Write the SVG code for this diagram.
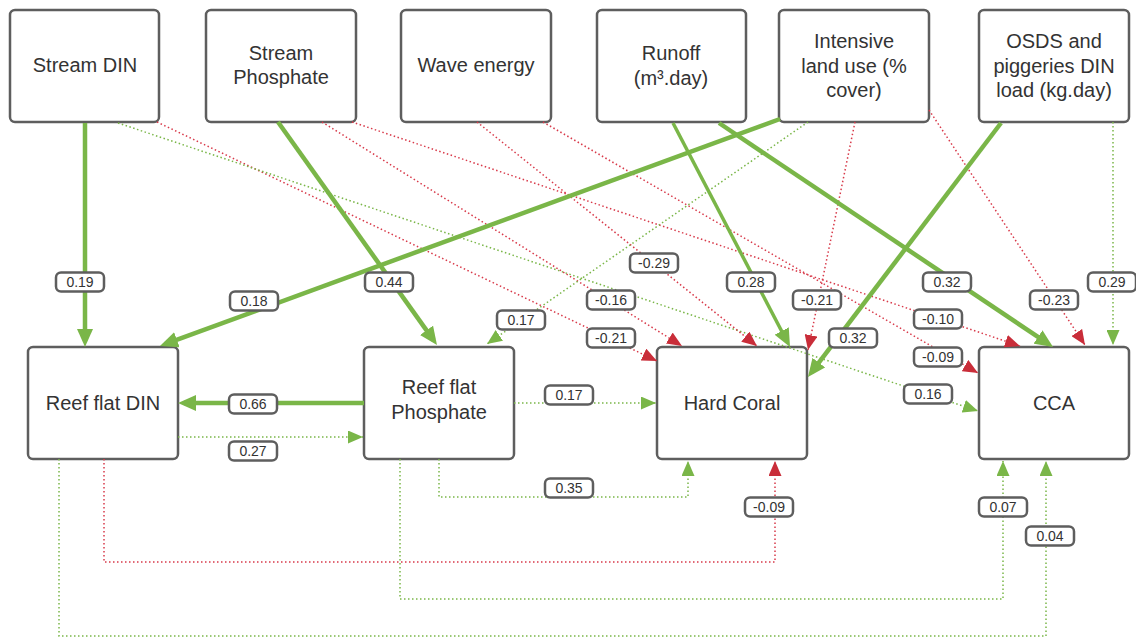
<svg xmlns="http://www.w3.org/2000/svg" width="1136" height="637" viewBox="0 0 1136 637">
<style>
.node rect{fill:#fff;stroke:#5e5e5e;stroke-width:2.5}
.node text{font-family:"Liberation Sans",Arial,sans-serif;font-size:20px;fill:#333;text-anchor:middle}
.thick{fill:none;stroke:#7ab648;stroke-width:4.5}
.gdot{fill:none;stroke:#7ab648;stroke-width:1.5;stroke-dasharray:1.5 2.5}
.rdot{fill:none;stroke:#d83a4a;stroke-width:1.5;stroke-dasharray:1.5 2.5}
.lbl rect{fill:#fff;stroke:#5e5e5e;stroke-width:2.5}
.lbl text{font-family:"Liberation Sans",Arial,sans-serif;font-size:14px;fill:#333;text-anchor:middle}
</style>
<defs>
<marker id="gT" markerUnits="userSpaceOnUse" markerWidth="18" markerHeight="16" refX="12" refY="8" orient="auto"><path d="M0,0 L18,8 L0,16 z" fill="#7ab648"/></marker>
<marker id="g" markerUnits="userSpaceOnUse" markerWidth="15" markerHeight="13" refX="15" refY="6.5" orient="auto"><path d="M0,0 L15,6.5 L0,13 z" fill="#7ab648"/></marker>
<marker id="r" markerUnits="userSpaceOnUse" markerWidth="15" markerHeight="13" refX="15" refY="6.5" orient="auto"><path d="M0,0 L15,6.5 L0,13 z" fill="#c92d39"/></marker>
</defs>

<g id="stream-din" class="node"><rect x="10" y="10" width="149" height="112" rx="5"/><text x="85" y="72">Stream DIN</text></g>
<g id="stream-phosphate" class="node"><rect x="206" y="10" width="150" height="112" rx="5"/><text x="281" y="60">Stream</text><text x="281" y="84">Phosphate</text></g>
<g id="wave-energy" class="node"><rect x="401" y="10" width="150" height="112" rx="5"/><text x="476" y="72">Wave energy</text></g>
<g id="runoff" class="node"><rect x="597" y="10" width="149" height="112" rx="5"/><text x="671" y="60">Runoff</text><text x="671" y="85">(m³.day)</text></g>
<g id="intensive" class="node"><rect x="779" y="10" width="150" height="112" rx="5"/><text x="854" y="48">Intensive</text><text x="854" y="73">land use (%</text><text x="854" y="97">cover)</text></g>
<g id="osds" class="node"><rect x="979" y="10" width="150" height="112" rx="5"/><text x="1054" y="48">OSDS and</text><text x="1054" y="73">piggeries DIN</text><text x="1054" y="97">load (kg.day)</text></g>
<g id="reef-flat-din" class="node"><rect x="28" y="347" width="150" height="112" rx="5"/><text x="103" y="410">Reef flat DIN</text></g>
<g id="reef-flat-phosphate" class="node"><rect x="364" y="347" width="150" height="112" rx="5"/><text x="439" y="394">Reef flat</text><text x="439" y="419">Phosphate</text></g>
<g id="hard-coral" class="node"><rect x="657" y="347" width="150" height="112" rx="5"/><text x="732" y="410">Hard Coral</text></g>
<g id="cca" class="node"><rect x="979" y="347" width="150" height="112" rx="5"/><text x="1054" y="410">CCA</text></g>

<g id="connectors">
<path class="rdot" d="M157,122 L657,361" marker-end="url(#r)"/>
<path class="gdot" d="M118,123 L978,411" marker-end="url(#g)"/>
<path class="rdot" d="M322,122 L682,346" marker-end="url(#r)"/>
<path class="rdot" d="M352,122 L1020,346" marker-end="url(#r)"/>
<path class="rdot" d="M477,122 L757,346" marker-end="url(#r)"/>
<path class="rdot" d="M543,122 L978,373" marker-end="url(#r)"/>
<path class="gdot" d="M808,122 L487,344" marker-end="url(#g)"/>
<path class="rdot" d="M855,122 L808,350" marker-end="url(#r)"/>
<path class="rdot" d="M929,110 L1085,345" marker-end="url(#r)"/>
<path class="gdot" d="M1113,122 V345" marker-end="url(#g)"/>
<path class="thick" d="M85,123 V341" marker-end="url(#gT)"/>
<path class="thick" d="M278,122 L433.5,340.1" marker-end="url(#gT)"/>
<path class="thick" d="M780,119 L165.6,343.9" marker-end="url(#gT)"/>
<path class="thick" style="stroke-width:3.5" d="M673,123 L787.2,341.7" marker-end="url(#gT)"/>
<path class="thick" d="M719,123 L1048,343.7" marker-end="url(#gT)"/>
<path class="thick" d="M1001,123 L811.6,372.2" marker-end="url(#gT)"/>
<path class="thick" d="M364,403 H184" marker-end="url(#gT)"/>
<path class="gdot" d="M178,437 H363" marker-end="url(#g)"/>
<path class="gdot" d="M514,403 H656" marker-end="url(#g)"/>
<path class="gdot" d="M439,459 V497 H688 V461" marker-end="url(#g)"/>
<path class="rdot" d="M104,459 V562 H775 V461" marker-end="url(#r)"/>
<path class="gdot" d="M400,459 V599 H1003 V461" marker-end="url(#g)"/>
<path class="gdot" d="M59,459 V636 H1046 V461" marker-end="url(#g)"/>
</g>

<g id="labels" class="lbl">
<g transform="translate(80,282)"><rect x="-24" y="-9.5" width="48" height="19" rx="5"/><text y="5">0.19</text></g>
<g transform="translate(389,282)"><rect x="-24" y="-9.5" width="48" height="19" rx="5"/><text y="5">0.44</text></g>
<g transform="translate(254,301)"><rect x="-24" y="-9.5" width="48" height="19" rx="5"/><text y="5">0.18</text></g>
<g transform="translate(521,320)"><rect x="-24" y="-9.5" width="48" height="19" rx="5"/><text y="5">0.17</text></g>
<g transform="translate(654,263)"><rect x="-24" y="-9.5" width="48" height="19" rx="5"/><text y="5">-0.29</text></g>
<g transform="translate(751,282)"><rect x="-24" y="-9.5" width="48" height="19" rx="5"/><text y="5">0.28</text></g>
<g transform="translate(611,300)"><rect x="-24" y="-9.5" width="48" height="19" rx="5"/><text y="5">-0.16</text></g>
<g transform="translate(817,300)"><rect x="-24" y="-9.5" width="48" height="19" rx="5"/><text y="5">-0.21</text></g>
<g transform="translate(611,338)"><rect x="-24" y="-9.5" width="48" height="19" rx="5"/><text y="5">-0.21</text></g>
<g transform="translate(947,282)"><rect x="-24" y="-9.5" width="48" height="19" rx="5"/><text y="5">0.32</text></g>
<g transform="translate(853,338)"><rect x="-24" y="-9.5" width="48" height="19" rx="5"/><text y="5">0.32</text></g>
<g transform="translate(1054,300)"><rect x="-24" y="-9.5" width="48" height="19" rx="5"/><text y="5">-0.23</text></g>
<g transform="translate(1112,282)"><rect x="-24" y="-9.5" width="48" height="19" rx="5"/><text y="5">0.29</text></g>
<g transform="translate(938,319)"><rect x="-24" y="-9.5" width="48" height="19" rx="5"/><text y="5">-0.10</text></g>
<g transform="translate(938,357)"><rect x="-24" y="-9.5" width="48" height="19" rx="5"/><text y="5">-0.09</text></g>
<g transform="translate(928,394)"><rect x="-24" y="-9.5" width="48" height="19" rx="5"/><text y="5">0.16</text></g>
<g transform="translate(253,404)"><rect x="-24" y="-9.5" width="48" height="19" rx="5"/><text y="5">0.66</text></g>
<g transform="translate(253,451)"><rect x="-24" y="-9.5" width="48" height="19" rx="5"/><text y="5">0.27</text></g>
<g transform="translate(569,395)"><rect x="-24" y="-9.5" width="48" height="19" rx="5"/><text y="5">0.17</text></g>
<g transform="translate(569,488)"><rect x="-24" y="-9.5" width="48" height="19" rx="5"/><text y="5">0.35</text></g>
<g transform="translate(769,507)"><rect x="-24" y="-9.5" width="48" height="19" rx="5"/><text y="5">-0.09</text></g>
<g transform="translate(1003,507)"><rect x="-24" y="-9.5" width="48" height="19" rx="5"/><text y="5">0.07</text></g>
<g transform="translate(1050,536)"><rect x="-24" y="-9.5" width="48" height="19" rx="5"/><text y="5">0.04</text></g>
</g>
</svg>
